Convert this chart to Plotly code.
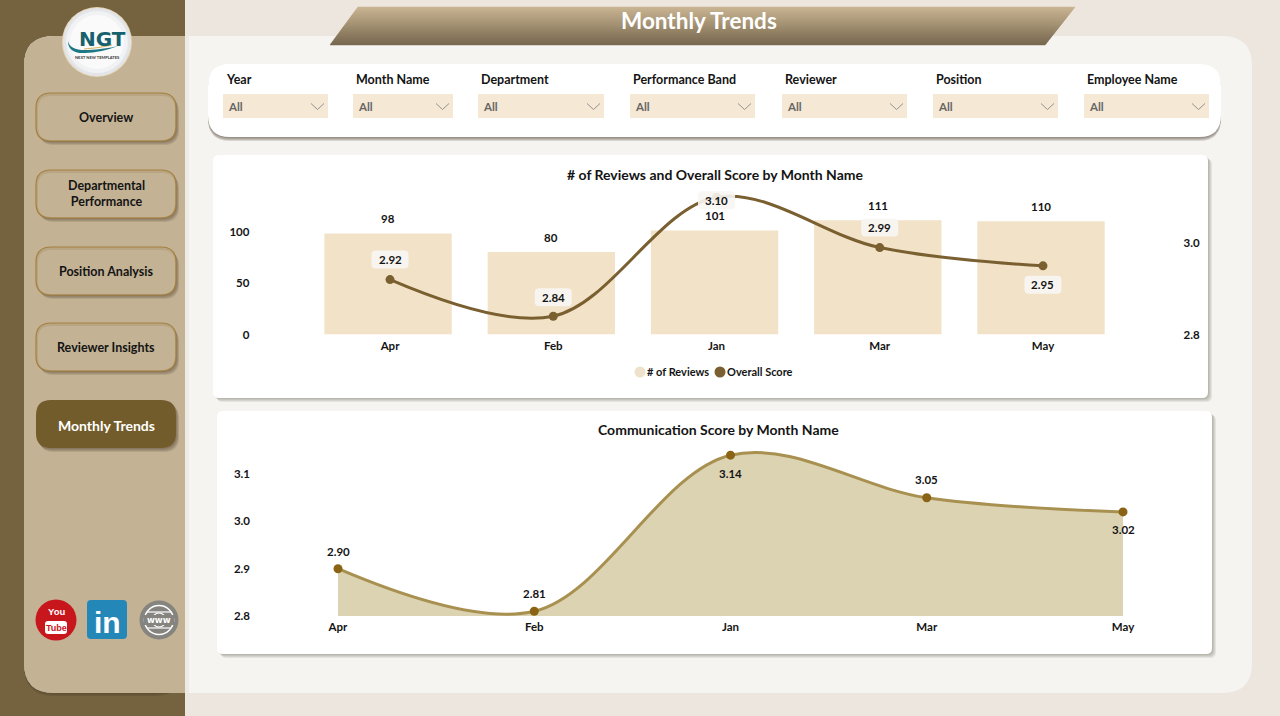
import plotly.graph_objects as go

# data
months = ["Apr", "Feb", "Jan", "Mar", "May"]
reviews = [98, 80, 101, 111, 110]
overall_score = [2.92, 2.84, 3.10, 2.99, 2.95]
communication_score = [2.90, 2.81, 3.14, 3.05, 3.02]
review_ticks = [0, 50, 100]
score_ticks = [2.8, 3.0]
comm_ticks = [2.8, 2.9, 3.0, 3.1]
nav_labels = ["Overview", "Departmental<br>Performance", "Position Analysis", "Reviewer Insights", "Monthly Trends"]
filter_labels = ["Year", "Month Name", "Department", "Performance Band", "Reviewer", "Position", "Employee Name"]

W, H = 1280, 716
FONT = "Lato"
INK = "#141414"
TAN = "#c3b294"
DARK = "#75623f"

shapes = []
notes = []


def fx(x):
    return x / W


def fy(y):
    return 1 - y / H


def rr_path(x0, y0, x1, y1, r, left=True, right=True):
    # rounded rectangle in pixel coords, converted to paper coords
    rl = r if left else 0
    rr = r if right else 0
    pts = [
        f"M{fx(x0 + rl)},{fy(y0)}", f"L{fx(x1 - rr)},{fy(y0)}",
        f"Q{fx(x1)},{fy(y0)} {fx(x1)},{fy(y0 + rr)}", f"L{fx(x1)},{fy(y1 - rr)}",
        f"Q{fx(x1)},{fy(y1)} {fx(x1 - rr)},{fy(y1)}", f"L{fx(x0 + rl)},{fy(y1)}",
        f"Q{fx(x0)},{fy(y1)} {fx(x0)},{fy(y1 - rl)}", f"L{fx(x0)},{fy(y0 + rl)}",
        f"Q{fx(x0)},{fy(y0)} {fx(x0 + rl)},{fy(y0)}", "Z",
    ]
    return " ".join(pts)


def box(x0, y0, x1, y1, r, fill, line=None, width=1, left=True, right=True):
    shapes.append(dict(type="path", path=rr_path(x0, y0, x1, y1, r, left, right), xref="paper", yref="paper",
                       fillcolor=fill, line=dict(color=line or "rgba(0,0,0,0)", width=width if line else 0),
                       layer="below"))


def shadow(x0, y0, x1, y1, r, dx=4, dy=4, strength=0.09, steps=4):
    for i in range(steps, 0, -1):
        box(x0 + dx * i / steps, y0 + dy * i / steps, x1 + dx * i / steps, y1 + dy * i / steps, r,
            f"rgba(60,50,35,{strength})")


def poly(points, fill=None, line=None, width=1):
    d = "M" + " L".join(f"{fx(x)},{fy(y)}" for x, y in points)
    if fill:
        d += " Z"
    shapes.append(dict(type="path", path=d, xref="paper", yref="paper", fillcolor=fill or "rgba(0,0,0,0)",
                       line=dict(color=line or "rgba(0,0,0,0)", width=width if line else 0), layer="below"))


def circle(cx, cy, r, fill, line=None, width=1):
    shapes.append(dict(type="circle", xref="paper", yref="paper", x0=fx(cx - r), x1=fx(cx + r), y0=fy(cy + r),
                       y1=fy(cy - r), fillcolor=fill, line=dict(color=line or "rgba(0,0,0,0)", width=width if line else 0),
                       layer="below"))


def label(x, y, text, size=12, color=INK, weight=700, anchor="center", font=FONT):
    notes.append(dict(x=fx(x), y=fy(y), xref="paper", yref="paper", text=text, showarrow=False, xanchor=anchor,
                      yanchor="middle", font=dict(family=font, size=size, color=color, weight=weight)))


# page background panels
box(0, 0, 185, 716, 0, DARK)
box(24, 36, 1252, 693, 30, "#f6f4f1")
shadow(24, 36, 185, 693, 30, dx=0, dy=3, strength=0.18, steps=2)
box(24, 36, 185, 693, 30, TAN, right=False)
poly([(185, 36), (189, 36), (189, 693), (185, 693)], fill="rgba(120,110,90,0.06)")

# title banner, gradient built from thin strips
top_col, bot_col = (201, 180, 146), (118, 103, 78)
for row in range(7, 45):
    t = (row - 7) / 38
    c = [round(a + (b - a) * t) for a, b in zip(top_col, bot_col)]
    dl = 28 / 38
    dr = 30 / 38
    x_left = 358 - 28 * t
    x_right = 1075 - 30 * t
    poly([(x_left, row), (x_right, row), (x_right - dr, row + 1), (x_left - dl, row + 1)],
         fill=f"rgb({c[0]},{c[1]},{c[2]})", line=f"rgb({c[0]},{c[1]},{c[2]})", width=0.5)
label(699, 20, "Monthly Trends", size=22.5, color="white", weight=700)

# logo
for r, c in [(35, "#e6d6b8"), (34, "#e3e5e8"), (31, "#f1f2f4"), (27, "#fafafb")]:
    circle(97, 42, r, c)
shapes.append(dict(type="path", xref="paper", yref="paper", layer="below", line=dict(width=0), fillcolor="#1d7785",
                   path=f"M{fx(68)},{fy(41)} Q{fx(70)},{fy(51)} {fx(88)},{fy(50)} Q{fx(105)},{fy(49)} {fx(118)},{fy(46)}"
                        f" Q{fx(100)},{fy(53)} {fx(85)},{fy(53)} Q{fx(68)},{fy(54)} {fx(68)},{fy(41)} Z"))
shapes.append(dict(type="path", xref="paper", yref="paper", layer="below", fillcolor="rgba(0,0,0,0)",
                   line=dict(width=1, color="#d9b25f"),
                   path=f"M{fx(84)},{fy(49)} Q{fx(100)},{fy(48)} {fx(112)},{fy(45)}"))
label(102, 39, "NGT", size=20, color="#17606e", font="DejaVu Sans")
label(97, 57, "NEXT NEW TEMPLATES", size=4, color="#333333")

# nav buttons
nav_tops = [93, 170, 247, 323, 400]
for i, (top, text) in enumerate(zip(nav_tops, nav_labels)):
    active = i == len(nav_labels) - 1
    shadow(36, top, 176, top + 48, 15, dx=3, dy=4, strength=0.13)
    if active:
        box(36, top, 176, top + 48, 15, "#735c2b")
        label(106, top + 25, text, size=14, color="white")
    else:
        box(36, top, 176, top + 48, 15, "#b8a583")
        box(38, top + 3, 175, top + 47, 13, TAN)
        box(36, top, 176, top + 48, 15, "rgba(0,0,0,0)", line="#a5803f", width=1.2)
        label(106, top + 24, text, size=12.5)

# social icons
circle(56, 620, 20.5, "#c8161d")
label(56, 611, "You", size=9.5, color="white", font="Liberation Sans")
box(45, 621, 67, 634, 3, "white")
label(56, 627.5, "Tube", size=9, color="#c8161d", font="Liberation Sans")
box(87, 600, 127, 639, 4, "#2387b8")
label(107, 622, "in", size=30, color="white", font="Liberation Sans")
circle(159, 620, 19.5, "#85847f")
circle(159, 620, 14.5, "rgba(0,0,0,0)", line="white", width=1.5)
circle(159, 620, 7, "rgba(0,0,0,0)", line="white", width=1.2)
poly([(147, 612), (171, 612)], line="white", width=1.2)
poly([(147, 628), (171, 628)], line="white", width=1.2)
box(144, 615, 174, 625, 0, "#85847f")
label(159, 620, "www", size=8.5, color="white", font="DejaVu Sans")

# filter bar
shadow(208, 64, 1221, 137, 22, dx=0, dy=4, strength=0.16)
box(208, 64, 1221, 137, 22, "white")
filter_boxes = [(223, 328), (353, 453), (478, 604), (630, 755), (782, 907), (933, 1058), (1084, 1209)]
for (x0, x1), text in zip(filter_boxes, filter_labels):
    box(x0, 94, x1, 118, 0, "#f5e8d5")
    label(x0 + 1, 79.5, text, size=12.5, anchor="left")
    label(x0 + 3, 106.5, "All", size=11.5, color="#666666", anchor="left")
    poly([(x1 - 17, 103.5), (x1 - 10.5, 109.5), (x1 - 4, 103.5)], line="#888888", width=0.9)

# chart cards
shadow(213, 155, 1208, 398, 6, dx=4, dy=4)
box(213, 155, 1208, 398, 6, "white")
shadow(217, 411, 1212, 654, 6, dx=4, dy=4)
box(217, 411, 1212, 654, 6, "white")
label(715, 175, "# of Reviews and Overall Score by Month Name", size=14)
label(718, 429, "Communication Score by Month Name", size=14)

# plot geometry (pixels)
C1_LEFT, C1_RIGHT, C1_TOP, C1_BOTTOM = 308.4, 1124.6, 190.0, 334.5
C2_LEFT, C2_RIGHT, C2_TOP, C2_BOTTOM = 338.0, 1123.0, 426.8, 616.0
REVIEW_PX = 1.03
SCORE_PX = 457.5

# manual legend, circles like the reference
circle(640, 372, 5.5, "#efe2cc")
label(645, 372, "# of Reviews", size=11, anchor="left")
circle(720, 372, 5.5, "#7a6030")
label(725, 372, "Overall Score", size=11, anchor="left")

fig = go.Figure()
fig.add_trace(go.Bar(x=months, y=reviews, marker=dict(color="#f1e2c8", line=dict(width=0)), width=0.78, offset=-0.402,
                     name="# of Reviews", xaxis="x", yaxis="y", hoverinfo="x+y"))
fig.add_trace(go.Scatter(x=months, y=overall_score, mode="lines+markers", name="Overall Score", xaxis="x", yaxis="y2",
                         line=dict(color="#7a6030", width=3, shape="spline", smoothing=1.0),
                         marker=dict(color="#7a6030", size=9), cliponaxis=False))
fig.add_trace(go.Scatter(x=months, y=communication_score, mode="lines", name="Communication Score", xaxis="x2", yaxis="y3",
                         line=dict(color="#a89150", width=3, shape="spline", smoothing=1.0),
                         fill="tozeroy", fillcolor="#dcd3b2"))
fig.add_trace(go.Scatter(x=months, y=communication_score, mode="markers", showlegend=False, xaxis="x2", yaxis="y3",
                         marker=dict(color="#8a6414", size=9), cliponaxis=False))

# value labels follow the data through the axes
for m, v in zip(months, reviews):
    notes.append(dict(x=m, y=v, xref="x", yref="y", text=str(v), showarrow=False, yshift=15, xshift=-2,
                      font=dict(family=FONT, size=11.5, color=INK, weight=700)))
score_shift = [20, 19, -3, 20, -19]
for i, (v, s) in enumerate(zip(overall_score, score_shift)):
    notes.append(dict(x=months[i], y=v, xref="x", yref="y2", text=f"{v:.2f}", showarrow=False, yshift=s,
                      font=dict(family=FONT, size=11.5, color=INK, weight=700)))
    # rounded plate behind the label
    w, h, r = 18.5, 9, 4
    top, bot = s + h, s - h
    plate = (f"M{-w + r},{top} L{w - r},{top} Q{w},{top} {w},{top - r} L{w},{bot + r} Q{w},{bot} {w - r},{bot} "
             f"L{-w + r},{bot} Q{-w},{bot} {-w},{bot + r} L{-w},{top - r} Q{-w},{top} {-w + r},{top} Z")
    shapes.append(dict(type="path", xref="x", yref="y2", xsizemode="pixel", ysizemode="pixel", xanchor=i, yanchor=v,
                       layer="above", path=plate, fillcolor="rgba(248,246,243,0.9)", line=dict(width=0)))
comm_shift = [17, 18, -18, 18, -18]
for m, v, s in zip(months, communication_score, comm_shift):
    notes.append(dict(x=m, y=v, xref="x2", yref="y3", text=f"{v:.2f}", showarrow=False, yshift=s,
                      font=dict(family=FONT, size=11.5, color=INK, weight=700)))

tick_font = dict(family=FONT, size=11.5, color=INK, weight=700)
no_grid = dict(showgrid=False, zeroline=False, showline=False, ticks="", tickfont=tick_font, fixedrange=True,
               automargin=False)

fig.update_layout(
    width=W, height=H, margin=dict(l=0, r=0, t=0, b=0), paper_bgcolor="#ede6de", plot_bgcolor="rgba(0,0,0,0)",
    showlegend=False, shapes=shapes, annotations=notes,
    xaxis=dict(domain=[fx(C1_LEFT), fx(C1_RIGHT)], anchor="y", type="category", categoryorder="array", categoryarray=months,
               range=[-0.5, 4.5], ticklabelstandoff=3, **no_grid),
    yaxis=dict(domain=[fy(C1_BOTTOM), fy(C1_TOP)], anchor="x", range=[0, (C1_BOTTOM - C1_TOP) / REVIEW_PX],
               tickvals=review_ticks, ticklabelstandoff=58, **no_grid),
    yaxis2=dict(domain=[fy(C1_BOTTOM), fy(C1_TOP)], anchor="x", overlaying="y", side="right",
                range=[2.8, 2.8 + (C1_BOTTOM - C1_TOP) / SCORE_PX], tickvals=score_ticks, tickformat=".1f",
                ticklabelstandoff=58, **no_grid),
    xaxis2=dict(domain=[fx(C2_LEFT), fx(C2_RIGHT)], anchor="y3", type="category", categoryorder="array", categoryarray=months,
                range=[0, 4], ticklabelstandoff=2, **no_grid),
    yaxis3=dict(domain=[fy(C2_BOTTOM), fy(C2_TOP)], anchor="x2", range=[2.8, 3.2], tickvals=comm_ticks, tickformat=".1f",
                ticklabelstandoff=87, **no_grid),
)

fig.write_html("out.html", config=dict(displayModeBar=False), post_script="document.body.style.margin='0';")
